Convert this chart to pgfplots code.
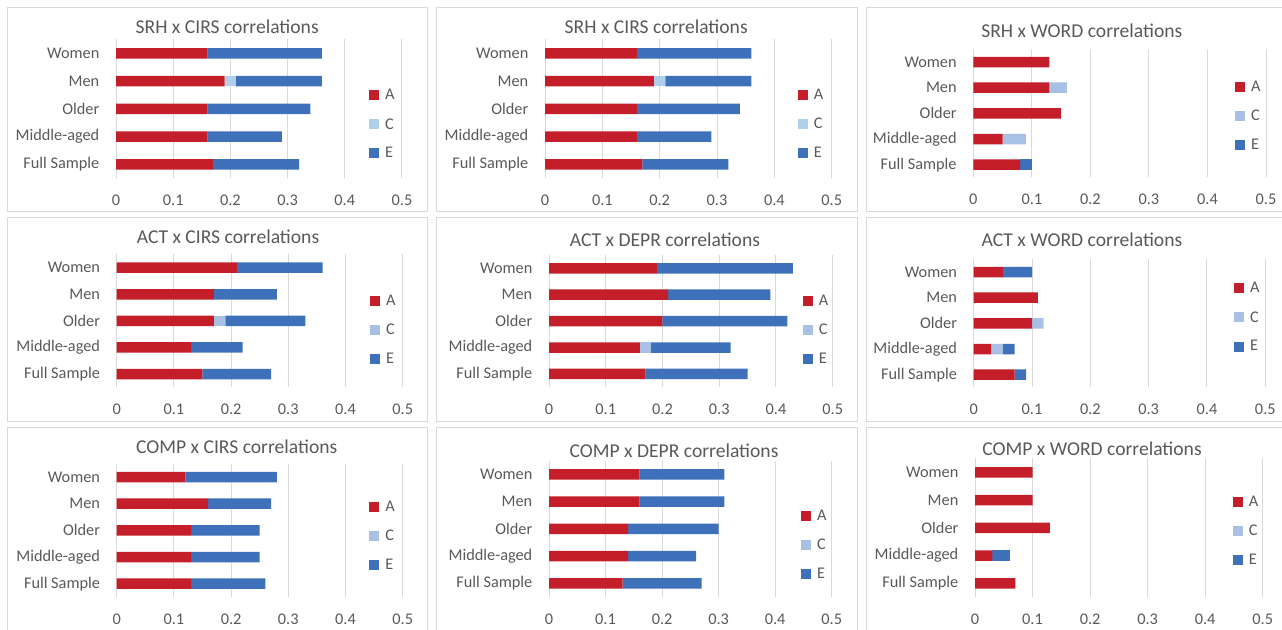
\documentclass[border=0pt]{standalone}
\usepackage{fontspec}
\setmainfont{Carlito}
\usepackage{pgfplots}
\pgfplotsset{compat=1.18}
\definecolor{cA}{HTML}{C41E2A}
\definecolor{cC}{HTML}{AFCFEA}
\definecolor{cCb}{HTML}{A7C0E3}
\definecolor{cE}{HTML}{3F70BA}
\definecolor{gridc}{HTML}{D9D9D9}
\definecolor{txt}{HTML}{595959}
\newcommand\lblfont{\fontsize{16.3}{19}\selectfont}
\newcommand\ttlfont{\fontsize{19.6}{23}\selectfont}
\pgfplotsset{
  panel/.style={
    xbar stacked, scale only axis, anchor=south west,
    xmin=0, xmax=0.5, ymin=-0.5, ymax=4.5,
    xtick={0,0.1,0.2,0.3,0.4,0.5},
    xticklabels={0,0.1,0.2,0.3,0.4,0.5},
    ytick={0,1,2,3,4},
    yticklabels={Full Sample,Middle-aged,Older,Men,Women},
    xmajorgrids, grid style={gridc, line width=1pt},
    axis line style={draw=none}, major tick length=0pt,
    tick label style={font=\lblfont, text=txt, inner sep=0pt},
    xticklabel style={yshift=-16.5pt},
    yticklabel style={xshift=-16.5pt},
    bar width=10.5pt,
    every axis plot post/.append style={draw=none,
      legend image code/.code={\fill[##1] (0pt,-5pt) rectangle (10pt,5pt);}},
    legend cell align=left,
    legend style={draw=none, fill=none, inner sep=0pt, anchor=west,
      font=\lblfont, text=txt, row sep=13pt, column sep=4pt},
  },
}
\begin{document}
\begin{tikzpicture}[x=1pt,y=1pt]
\useasboundingbox (0,0) rectangle (1282,629);
\clip (0,0) rectangle (1282,629);
% frames
\foreach \xa/\xb in {7.5/427.5, 436.5/857.5, 866.5/1300}{
  \draw[gridc, line width=1pt] (\xa,621.5) rectangle (\xb,417.5);
  \draw[gridc, line width=1pt] (\xa,411.5) rectangle (\xb,207.5);
  \draw[gridc, line width=1pt] (\xa,201.5) rectangle (\xb,-20);
}
% Panel 1
\begin{axis}[panel, at={(116pt,450.8pt)}, width=286pt, height=138.8pt,
  legend style={at={(0.8846,0.387)}}]
\addplot[fill=cA] coordinates {(0.17,0) (0.16,1) (0.16,2) (0.19,3) (0.16,4)};
\addplot[fill=cC] coordinates {(0,0) (0,1) (0,2) (0.02,3) (0,4)};
\addplot[fill=cE] coordinates {(0.15,0) (0.13,1) (0.18,2) (0.15,3) (0.20,4)};
\legend{A,C,E}
\end{axis}
% Panel 2
\begin{axis}[panel, at={(545pt,450.8pt)}, width=286.7pt, height=138.8pt,
  legend style={at={(0.8814,0.388)}}]
\addplot[fill=cA] coordinates {(0.17,0) (0.16,1) (0.16,2) (0.19,3) (0.16,4)};
\addplot[fill=cC] coordinates {(0,0) (0,1) (0,2) (0.02,3) (0,4)};
\addplot[fill=cE] coordinates {(0.15,0) (0.13,1) (0.18,2) (0.15,3) (0.20,4)};
\legend{A,C,E}
\end{axis}
% Panel 3
\begin{axis}[panel, at={(973.3pt,451.5pt)}, width=292.7pt, height=128.3pt,
  legend style={at={(0.894,0.477)}}]
\addplot[fill=cA] coordinates {(0.08,0) (0.05,1) (0.15,2) (0.13,3) (0.13,4)};
\addplot[fill=cCb] coordinates {(0,0) (0.04,1) (0,2) (0.03,3) (0,4)};
\addplot[fill=cE] coordinates {(0.02,0) (0,1) (0,2) (0,3) (0,4)};
\legend{A,C,E}
\end{axis}
% Panel 4
\begin{axis}[panel, at={(116.7pt,241.7pt)}, width=286pt, height=132.9pt,
  legend style={at={(0.8857,0.432)}}]
\addplot[fill=cA] coordinates {(0.15,0) (0.13,1) (0.17,2) (0.17,3) (0.21,4)};
\addplot[fill=cCb] coordinates {(0,0) (0,1) (0.02,2) (0,3) (0,4)};
\addplot[fill=cE] coordinates {(0.12,0) (0.09,1) (0.14,2) (0.11,3) (0.15,4)};
\legend{A,C,E}
\end{axis}
% Panel 5
\begin{axis}[panel, at={(549pt,241.8pt)}, width=283.7pt, height=132.1pt,
  legend style={at={(0.8943,0.434)}}]
\addplot[fill=cA] coordinates {(0.17,0) (0.16,1) (0.20,2) (0.21,3) (0.19,4)};
\addplot[fill=cCb] coordinates {(0,0) (0.02,1) (0,2) (0,3) (0,4)};
\addplot[fill=cE] coordinates {(0.18,0) (0.14,1) (0.22,2) (0.18,3) (0.24,4)};
\legend{A,C,E}
\end{axis}
% Panel 6
\begin{axis}[panel, at={(973.7pt,241.5pt)}, width=291.6pt, height=128.3pt,
  legend style={at={(0.8927,0.5456)}}]
\addplot[fill=cA] coordinates {(0.07,0) (0.03,1) (0.10,2) (0.11,3) (0.05,4)};
\addplot[fill=cCb] coordinates {(0,0) (0.02,1) (0.02,2) (0,3) (0,4)};
\addplot[fill=cE] coordinates {(0.02,0) (0.02,1) (0,2) (0,3) (0.05,4)};
\legend{A,C,E}
\end{axis}
% Panel 7
\begin{axis}[panel, at={(116.7pt,32pt)}, width=286pt, height=133.3pt,
  legend style={at={(0.8832,0.455)}}]
\addplot[fill=cA] coordinates {(0.13,0) (0.13,1) (0.13,2) (0.16,3) (0.12,4)};
\addplot[fill=cCb] coordinates {(0,0) (0,1) (0,2) (0,3) (0,4)};
\addplot[fill=cE] coordinates {(0.13,0) (0.12,1) (0.12,2) (0.11,3) (0.16,4)};
\legend{A,C,E}
\end{axis}
% Panel 8
\begin{axis}[panel, at={(549pt,32pt)}, width=282.7pt, height=136.3pt,
  legend style={at={(0.8914,0.384)}}]
\addplot[fill=cA] coordinates {(0.13,0) (0.14,1) (0.14,2) (0.16,3) (0.16,4)};
\addplot[fill=cCb] coordinates {(0,0) (0,1) (0,2) (0,3) (0,4)};
\addplot[fill=cE] coordinates {(0.14,0) (0.12,1) (0.16,2) (0.15,3) (0.15,4)};
\legend{A,C,E}
\end{axis}
% Panel 9
\begin{axis}[panel, at={(975pt,31.8pt)}, width=287.7pt, height=138.8pt,
  legend style={at={(0.8957,0.477)}}]
\addplot[fill=cA] coordinates {(0.07,0) (0.03,1) (0.13,2) (0.10,3) (0.10,4)};
\addplot[fill=cCb] coordinates {(0,0) (0,1) (0,2) (0,3) (0,4)};
\addplot[fill=cE] coordinates {(0,0) (0.03,1) (0,2) (0,3) (0,4)};
\legend{A,C,E}
\end{axis}
% titles
\begin{scope}[every node/.style={anchor=base, font=\ttlfont, text=txt, inner sep=0pt}]
\node at (227.2,595.7) {SRH x CIRS correlations};
\node at (656.2,595.7) {SRH x CIRS correlations};
\node at (1081.8,591.7) {SRH x WORD correlations};
\node at (228,385.7) {ACT x CIRS correlations};
\node at (665,382.3) {ACT x DEPR correlations};
\node at (1082,382.3) {ACT x WORD correlations};
\node at (236.7,175.7) {COMP x CIRS correlations};
\node at (674,171.7) {COMP x DEPR correlations};
\node at (1092,173) {COMP x WORD correlations};
\end{scope}
\end{tikzpicture}
\end{document}
